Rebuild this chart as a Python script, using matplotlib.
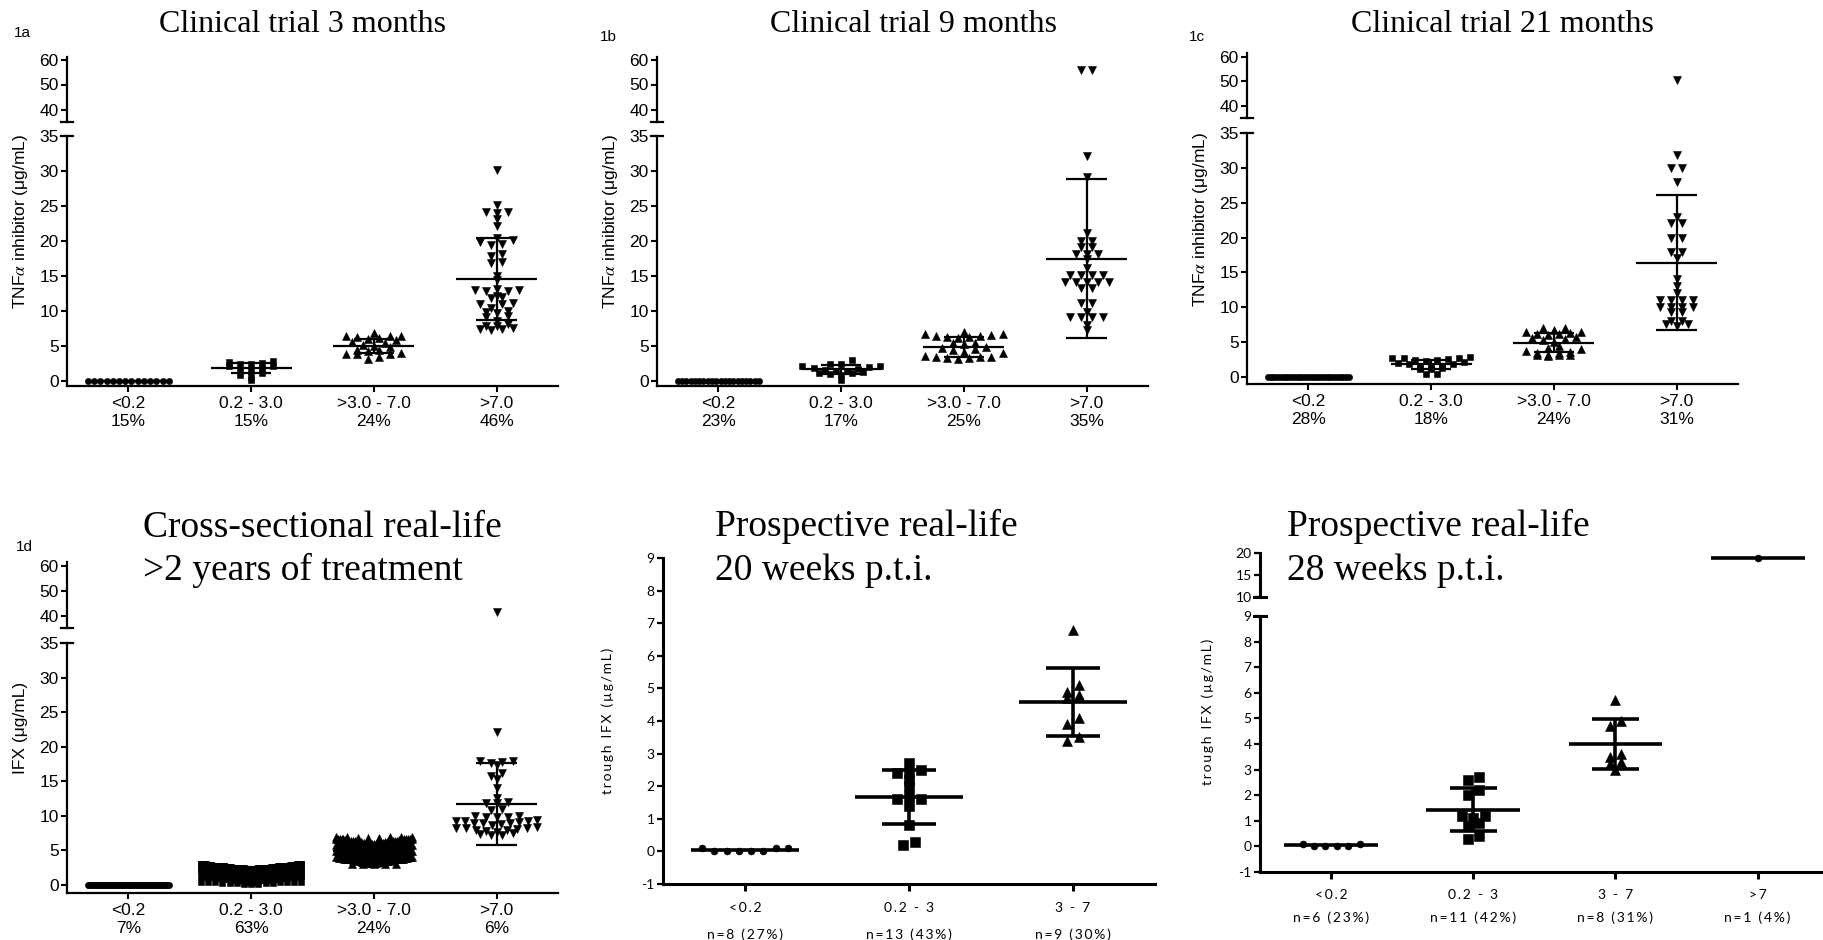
import numpy as np
import matplotlib.pyplot as plt

plt.rcParams['font.family'] = ['Liberation Sans', 'DejaVu Sans']
plt.rcParams['mathtext.fontset'] = 'stix'

# ---------------- data ----------------
trial_cats = ['<0.2', '0.2 - 3.0', '>3.0 - 7.0', '>7.0']
pct_3m = ['15%', '15%', '24%', '46%']
pct_9m = ['23%', '17%', '25%', '35%']
pct_21m = ['28%', '18%', '24%', '31%']
pct_cross = ['7%', '63%', '24%', '6%']

# clinical trial 3 months
m3_low = [0.0] * 14
m3_mid = [2.8, 2.7, 2.6, 2.5, 2.4, 2.2, 2.1, 1.9, 1.6, 1.4, 1.2, 0.8, 0.6, 0.2]
m3_hi = [6.8, 6.5, 6.4, 6.4, 6.3, 6.2, 6.0, 5.8, 5.6, 5.5, 5.2, 5.0, 4.8, 4.5, 4.4, 4.3,
         4.0, 3.9, 3.8, 3.8, 3.5, 3.2]
m3_top = [30.1, 25.2, 24.2, 24.2, 24.0, 23.1, 22.1, 20.4, 20.2, 19.9, 19.6, 19.4, 18.2,
          17.9, 17.0, 16.8, 15.0, 14.4, 13.1, 13.0, 13.0, 12.9, 12.9, 12.2, 12.0, 11.8,
          11.2, 11.0, 11.0, 10.5, 10.0, 9.8, 9.7, 9.3, 9.1, 8.6, 8.2, 7.9, 7.8, 7.6, 7.4,
          7.4, 7.3]
m3_mean = [0.0, 1.85, 5.0, 14.6]
m3_sd = [0.0, 0.7, 1.0, 5.9]

# clinical trial 9 months
m9_low = [0.0] * 20
m9_mid = [3.0, 2.5, 2.4, 2.2, 2.1, 2.0, 1.8, 1.7, 1.6, 1.5, 1.4, 1.3, 1.2, 1.1, 1.0, 0.9, 0.2]
m9_hi = [7.0, 6.7, 6.7, 6.6, 6.5, 6.4, 6.3, 6.3, 6.2, 5.5, 5.4, 5.3, 4.8, 4.7, 4.6, 4.5,
         4.1, 4.0, 3.6, 3.5, 3.4, 3.4, 3.3, 3.3, 3.2]
m9_top = [56.0, 56.0, 32.1, 29.2, 21.2, 20.0, 20.0, 19.1, 19.1, 18.1, 18.1, 18.1, 17.4,
          16.1, 15.1, 15.1, 15.1, 15.1, 14.1, 14.1, 14.1, 14.1, 14.1, 13.3, 13.3, 11.1,
          11.1, 9.8, 9.2, 9.2, 9.2, 9.2, 8.0, 7.3]
m9_mean = [0.0, 1.7, 4.9, 17.5]
m9_sd = [0.0, 0.65, 1.45, 11.3]

# clinical trial 21 months
m21_low = [0.0] * 30
m21_mid = [2.9, 2.8, 2.8, 2.7, 2.6, 2.5, 2.4, 2.3, 2.1, 2.0, 1.9, 1.8, 1.6, 1.5, 1.4, 1.3,
           1.2, 1.1, 0.4, 0.4]
m21_hi = [7.0, 7.0, 6.8, 6.5, 6.4, 6.3, 6.2, 6.1, 6.0, 5.8, 5.6, 5.5, 5.3, 5.0, 4.5, 4.2,
          4.0, 3.8, 3.6, 3.5, 3.4, 3.2, 3.1, 3.1, 3.1, 3.0]
m21_top = [50.5, 31.9, 30.0, 30.0, 28.0, 23.0, 22.1, 22.1, 20.0, 20.0, 17.9, 17.9, 17.1,
           14.1, 13.0, 12.0, 11.0, 11.0, 11.0, 11.0, 10.1, 10.1, 10.1, 10.1, 9.3, 9.3,
           8.0, 8.0, 7.6, 7.6, 7.3]
m21_mean = [0.0, 1.85, 4.95, 16.4]
m21_sd = [0.0, 0.65, 1.4, 9.7]

# cross-sectional real-life (dense groups given as value / count)
cross_low = [0.0] * 52
cross_mid_vals = [0.2, 0.3, 0.4, 0.5, 0.6, 0.7, 0.8, 0.9, 1.0, 1.1, 1.2, 1.3, 1.4, 1.5, 1.6,
                  1.7, 1.8, 1.9, 2.0, 2.1, 2.2, 2.3, 2.4, 2.5, 2.6, 2.7, 2.8, 2.9, 3.0]
cross_mid_counts = [3, 5, 7, 9, 11, 13, 15, 16, 17, 17, 17, 17, 17, 18, 18, 18, 18, 18, 19,
                    19, 19, 19, 19, 19, 19, 19, 18, 17, 16]
cross_hi_vals = [3.0, 3.1, 3.2, 3.3, 3.4, 3.5, 3.6, 3.7, 3.8, 3.9, 4.0, 4.1, 4.2, 4.3, 4.4,
                 4.5, 4.6, 4.7, 4.8, 4.9, 5.0, 5.1, 5.2, 5.3, 5.4, 5.5, 5.6, 5.7, 5.8, 5.9,
                 6.0, 6.1, 6.2, 6.3, 6.4, 6.5, 6.6, 6.7, 6.8, 6.9, 7.0]
cross_hi_counts = [2, 3, 4, 5, 5, 5, 5, 6, 5, 5, 5, 4, 5, 5, 5, 6, 5, 4, 4, 5, 5, 4, 5, 6, 5,
                   4, 4, 4, 4, 4, 4, 4, 4, 5, 5, 5, 6, 4, 3, 2, 3]
cross_top = [41.3, 22.1, 18.0, 18.0, 17.8, 17.6, 17.3, 16.2, 15.8, 15.4, 14.1, 12.6, 12.0,
             11.9, 11.8, 11.0, 10.9, 10.0, 10.0, 9.9, 9.8, 9.8, 9.4, 9.3, 9.2, 9.2, 9.1,
             9.0, 9.0, 8.9, 8.8, 8.7, 8.4, 8.3, 8.2, 8.2, 8.1, 8.0, 7.9, 7.8, 7.7, 7.5, 7.4,
             7.3, 7.2]
cross_mean = [0.0, 1.9, 4.9, 11.7]
cross_sd = [0.0, 0.7, 1.1, 5.9]

# prospective real-life 20 weeks
w20_cats = ['<0.2', '0.2 - 3', '3 - 7']
w20_n = ['n=8 (27%)', 'n=13 (43%)', 'n=9 (30%)']
w20_low = [0.1, 0.0, 0.0, 0.0, 0.0, 0.0, 0.1, 0.1]
w20_mid = [2.7, 2.5, 2.4, 2.4, 2.2, 2.0, 1.7, 1.6, 1.6, 1.4, 0.8, 0.3, 0.2]
w20_hi = [6.8, 5.1, 4.9, 4.8, 4.7, 4.1, 3.9, 3.5, 3.4]
w20_mean = [0.03, 1.68, 4.58]
w20_sd = [0.0, 0.83, 1.04]

# prospective real-life 28 weeks
w28_cats = ['<0.2', '0.2 - 3', '3 - 7', '>7']
w28_n = ['n=6 (23%)', 'n=11 (42%)', 'n=8 (31%)', 'n=1 (4%)']
w28_low = [0.1, 0.0, 0.0, 0.0, 0.0, 0.1]
w28_mid = [2.7, 2.6, 2.2, 2.0, 1.2, 1.2, 1.1, 0.9, 0.8, 0.4, 0.3]
w28_hi = [5.7, 4.9, 4.7, 3.6, 3.5, 3.3, 3.2, 3.0]
w28_top = [18.8]
w28_mean = [0.07, 1.43, 3.99, 18.8]
w28_sd = [0.0, 0.84, 0.97, 0.0]

# ---------------- drawing ----------------
W, H = 1823, 940
fig = plt.figure(figsize=(W / 100, H / 100), dpi=100)

SANS = ['Liberation Sans', 'DejaVu Sans']
CAL = ['Lato', 'DejaVu Sans']
SERIF = ['Liberation Serif', 'DejaVu Serif']


def box(x0, y0, x1, y1):
    # axes from a pixel box (origin top-left)
    return fig.add_axes([x0 / W, 1 - y1 / H, (x1 - x0) / W, (y1 - y0) / H])


def spaced(s):
    return '\u2009'.join(s)


def swarm(vals, dx, dy, hw):
    # simple column scatter: bin into rows, spread each row around the centre
    v = np.sort(np.asarray(vals, dtype=float))
    rows = np.round(v / dy)
    off = np.zeros_like(v)
    for r in np.unique(rows):
        idx = np.flatnonzero(rows == r)
        k = len(idx)
        step = dx if k < 2 else min(dx, 2 * hw / (k - 1))
        slots = (np.arange(k) - (k - 1) / 2) * step
        off[idx] = slots[np.argsort(np.abs(slots), kind='stable')]
    return off, v


def panel(x0, x1, lo, hi, xlim, groups, markers, sizes, caps, means, sds, xlabels, st):
    ax = box(x0, lo[0], x1, lo[1])
    axs = [ax]
    axu = None
    if hi is not None:
        axu = box(x0, hi[0], x1, hi[1])
        axs.append(axu)
    for i, vals in enumerate(groups):
        off, v = swarm(vals, st['dx'], st['dy'], caps[i])
        for a in axs:
            a.plot(i + off, v, ls='none', marker=markers[i], ms=sizes[i],
                   color='black', mew=0.4)
            a.hlines(means[i], i - 0.33, i + 0.33, color='black', lw=st['lw'])
            if sds[i] > 0:
                a.vlines(i, means[i] - sds[i], means[i] + sds[i], color='black', lw=st['lw'])
                a.hlines([means[i] - sds[i], means[i] + sds[i]], i - 0.165, i + 0.165,
                         color='black', lw=st['lw'])
    bw = 6 / (x1 - x0)
    for a, (yl, yt) in zip(axs, [(lo[2], lo[3])] + ([(hi[2], hi[3])] if hi else [])):
        a.set_xlim(*xlim)
        a.set_ylim(*yl)
        a.set_yticks(yt)
        a.set_yticklabels([str(t) for t in yt], fontfamily=st['fam'], fontsize=st['fs'])
        a.spines[['top', 'right']].set_visible(False)
        a.spines['left'].set_linewidth(st['spine'])
        a.tick_params(axis='y', length=st['ylen'], width=st['yw'], pad=2)
        a.patch.set_alpha(0)
    ax.spines['bottom'].set_linewidth(st['spine'])
    ax.set_xticks(range(len(xlabels)))
    ax.set_xticklabels(xlabels, fontfamily=st['fam'], fontsize=st['fs_x'])
    ax.tick_params(axis='x', length=st['xlen'], width=st['xw'], pad=st['xpad'])
    for t in ax.get_xticklabels():
        t.set_linespacing(st['ls'])
    if axu is not None:
        axu.spines['bottom'].set_visible(False)
        axu.set_xticks([])
        axu.plot([-bw, bw], [0, 0], transform=axu.transAxes, color='black',
                 lw=st['spine'], clip_on=False)
        ax.plot([-bw, bw], [1, 1], transform=ax.transAxes, color='black',
                lw=st['spine'], clip_on=False)
    return ax


TRIAL = dict(dx=0.09, dy=0.9, lw=1.6, spine=1.6, ylen=4, yw=1.5, xlen=4, xw=1.5,
             fs=12.5, fs_x=12.5, xpad=3, ls=1.25, fam=SANS)
W20 = dict(dx=0.075, dy=0.25, lw=2.6, spine=2.2, ylen=4, yw=1.6, xlen=5, xw=2.2,
           fs=10, fs_x=10, xpad=8, ls=2.35, fam=CAL)
W28 = dict(dx=0.08, dy=0.3, lw=2.6, spine=2.2, ylen=4, yw=1.6, xlen=5, xw=2.2,
           fs=10, fs_x=10, xpad=7, ls=2.0, fam=CAL)

tri_mk = ['o', 's', '^', 'v']
tri_ms = [4.5, 5, 5.5, 5.5]
lo_ticks = [0, 5, 10, 15, 20, 25, 30, 35]
hi_ticks = [40, 50, 60]


def two_line(a, b):
    return [f'{x}\n{y}' for x, y in zip(a, b)]


panel(67, 558, (136, 386, (-0.7, 35), lo_ticks), (57, 122, (35, 61), hi_ticks), (-0.5, 3.5),
      [m3_low, m3_mid, m3_hi, m3_top], tri_mk, tri_ms, [0.33] * 4, m3_mean, m3_sd,
      two_line(trial_cats, pct_3m), TRIAL)
panel(657, 1148, (136, 386, (-0.7, 35), lo_ticks), (57, 122, (35, 61), hi_ticks), (-0.5, 3.5),
      [m9_low, m9_mid, m9_hi, m9_top], tri_mk, tri_ms, [0.33] * 4, m9_mean, m9_sd,
      two_line(trial_cats, pct_9m), TRIAL)
panel(1247, 1738, (133, 384, (-1.0, 35), lo_ticks), (53, 118, (35, 61.5), hi_ticks), (-0.5, 3.5),
      [m21_low, m21_mid, m21_hi, m21_top], tri_mk, tri_ms, [0.33] * 4, m21_mean, m21_sd,
      two_line(trial_cats, pct_21m), TRIAL)
panel(67, 558, (643, 893, (-1.15, 35), lo_ticks), (562, 628, (35, 61.5), hi_ticks), (-0.5, 3.5),
      [cross_low, np.repeat(cross_mid_vals, cross_mid_counts),
       np.repeat(cross_hi_vals, cross_hi_counts), cross_top],
      tri_mk, tri_ms, [0.33, 0.41, 0.31, 0.33], cross_mean, cross_sd,
      two_line(trial_cats, pct_cross), TRIAL)
panel(663, 1155, (558, 884, (-1, 9), list(range(-1, 10))), None, (-0.5, 2.5),
      [w20_low, w20_mid, w20_hi], ['o', 's', '^'], [5, 6.5, 6.5], [0.33] * 3,
      w20_mean, w20_sd, two_line([spaced(c) for c in w20_cats], [spaced(n) for n in w20_n]), W20)
panel(1260, 1823, (616, 872, (-1, 9), list(range(-1, 10))), (553, 597, (10, 20), [10, 15, 20]),
      (-0.5, 3.46), [w28_low, w28_mid, w28_hi, w28_top], ['o', 's', '^', 'o'],
      [5, 6.5, 6.5, 5], [0.33] * 4, w28_mean, w28_sd,
      two_line([spaced(c) for c in w28_cats], [spaced(n) for n in w28_n]), W28)

# titles
for x, y, s, fs in [(159, 32, 'Clinical trial 3 months', 23),
                    (770, 32, 'Clinical trial 9 months', 23),
                    (1351, 32, 'Clinical trial 21 months', 23),
                    (143, 537, 'Cross-sectional real-life', 27),
                    (143, 580, '>2 years of treatment', 27),
                    (715, 536, 'Prospective real-life', 27),
                    (715, 580, '20 weeks p.t.i.', 27),
                    (1287, 536, 'Prospective real-life', 27),
                    (1287, 580, '28 weeks p.t.i.', 27)]:
    fig.text(x / W, 1 - y / H, s, fontfamily=SERIF, fontsize=fs, ha='left', va='baseline')

# panel tags
for x, y, s in [(22, 33, '1a'), (608, 37, '1b'), (1197, 37, '1c'), (24, 547, '1d')]:
    fig.text(x / W, 1 - y / H, s, fontsize=11, ha='center', va='center')

# y labels
for x, y, s, fam, fs in [(21, 221, 'TNF$\\alpha$ inhibitor (\u03bcg/mL)', SANS, 12.5),
                         (611, 221, 'TNF$\\alpha$ inhibitor (\u03bcg/mL)', SANS, 12.5),
                         (1200, 219, 'TNF$\\alpha$ inhibitor (\u03bcg/mL)', SANS, 12.5),
                         (21, 728, 'IFX (\u03bcg/mL)', SANS, 12.5),
                         (608, 721, spaced('trough IFX (\u00b5g/mL)'), CAL, 10),
                         (1208, 712, spaced('trough IFX (\u00b5g/mL)'), CAL, 10)]:
    fig.text(x / W, 1 - y / H, s, fontfamily=fam, fontsize=fs, rotation=90,
             ha='center', va='center')

fig.savefig('out.png', dpi=100)
